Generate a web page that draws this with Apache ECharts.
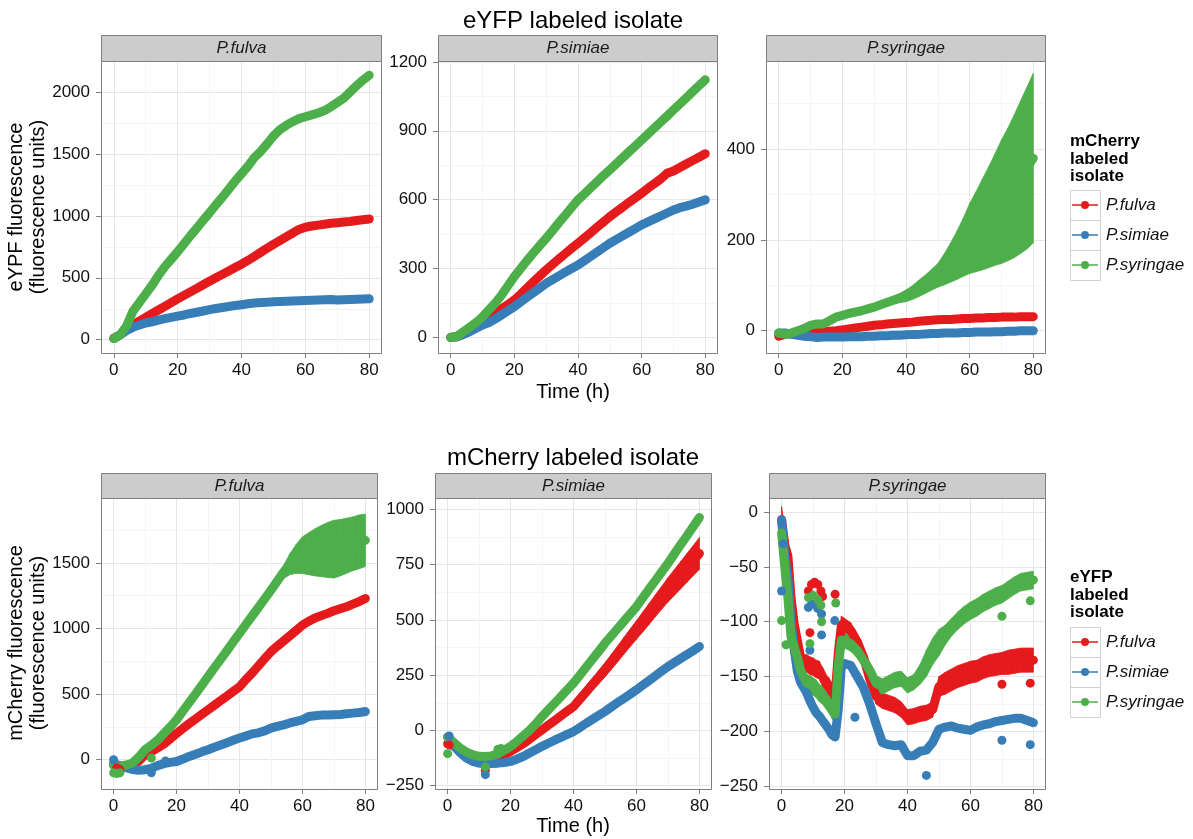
<!DOCTYPE html>
<html><head><meta charset="utf-8">
<script src="https://cdn.jsdelivr.net/npm/echarts@6/dist/echarts.min.js"></script>
<style>html,body{margin:0;padding:0;background:#fff}#c{width:1193px;height:839px}</style>
</head><body><div id="c"></div>
<script>
// ---------- categories / labels ----------
const seriesNames = ['P.fulva', 'P.simiae', 'P.syringae'];
const facetNames = ['P.fulva', 'P.simiae', 'P.syringae'];
const topTitle = 'eYFP labeled isolate';
const bottomTitle = 'mCherry labeled isolate';
const topYTitle = 'eYPF fluorescence\n(fluorescence units)';
const bottomYTitle = 'mCherry fluorescence\n(fluorescence units)';
const xTitle = 'Time (h)';
const topLegendTitle = 'mCherry\nlabeled\nisolate';
const bottomLegendTitle = 'eYFP\nlabeled\nisolate';

// ---------- tick labels ----------
const xTicks = [0, 20, 40, 60, 80];
const A_yTicks = [0, 500, 1000, 1500, 2000];
const B_yTicks = [0, 300, 600, 900, 1200];
const C_yTicks = [0, 200, 400];
const D_yTicks = [0, 500, 1000, 1500];
const E_yTicks = [-250, 0, 250, 500, 750, 1000];
const F_yTicks = [-250, -200, -150, -100, -50, 0];

// ---------- time points (h) ----------
const tMain = [0,2,4,6,8,10,12,14,16,18,20,22,24,26,28,30,32,34,36,38,40,42,44,46,48,50,52,54,56,58,60,62,64,66,68,70,72,74,76,78,80];
const tF = [0,1,2,3,4,5,6,7,8,9,10,11,12,13,14,15,16,17,18,19,20,22,24,26,28,30,32,34,36,38,40,42,44,46,48,50,52,54,56,58,60,62,64,66,68,70,72,74,76,78,80];

// ---------- top row: eYFP fluorescence ----------
const A_fulva = [10,40,80,118,150,180,210,240,270,300,330,358,387,415,444,473,500,528,555,583,610,640,672,705,738,770,800,830,860,890,908,918,925,932,940,945,950,955,962,968,975];
const A_simiae = [10,40,75,100,118,135,145,158,170,180,190,200,212,222,232,243,252,260,268,276,283,290,296,300,303,306,308,310,312,314,316,318,320,322,325,320,322,324,326,328,330];
const A_syringae = [10,40,110,230,300,370,440,520,590,650,710,775,840,900,965,1025,1090,1150,1215,1280,1340,1400,1470,1520,1580,1645,1695,1730,1760,1785,1800,1815,1830,1850,1880,1915,1950,2000,2050,2095,2135];

const B_fulva = [0,3,15,30,48,68,85,105,125,143,163,188,215,242,268,294,318,342,365,388,410,433,456,480,503,526,547,567,588,608,628,650,670,690,715,725,740,755,770,785,800];
const B_simiae = [0,3,13,25,40,54,65,80,98,116,134,155,175,195,215,235,252,268,284,300,315,334,353,372,391,410,426,442,458,474,490,503,516,529,542,555,565,572,580,590,599];
const B_syringae = [0,5,25,45,65,90,120,150,185,225,265,300,335,368,400,432,465,500,533,566,599,625,652,678,705,730,756,782,808,834,860,886,912,938,964,991,1017,1043,1070,1096,1122];

const C_fulva = [-12,-8,-6,-5,-5,-4,-3,-2,-1,0,2,4,6,8,10,12,13,15,16,17,18,19,21,22,23,24,25,25,26,27,27,28,28,29,29,30,30,30,31,31,31];
const C_simiae = [-5,-5,-8,-10,-12,-13,-15,-14,-14,-14,-14,-13,-13,-13,-12,-12,-11,-11,-10,-10,-9,-8,-8,-7,-6,-6,-5,-5,-5,-4,-4,-3,-3,-3,-2,-2,-1,-1,0,0,0];
const C_syringae = [-5,-8,-5,0,5,12,15,15,22,30,34,38,41,44,48,52,57,62,67,72,77,84,93,102,112,122,135,150,166,184,203,218,234,250,267,284,300,318,338,358,380];
const C_syringae_err = [2,2,2,2,2,2,2,2,2,2,2,2,2,2,2,3,4,6,8,10,13,15,18,20,23,26,34,43,53,64,77,88,100,111,123,136,146,157,168,178,187];

// ---------- bottom row: mCherry fluorescence ----------
const D_fulva = [-40,-55,-60,-40,-10,38,63,90,120,160,200,238,275,310,345,380,415,450,485,520,555,610,660,715,770,823,865,905,945,985,1026,1055,1080,1098,1115,1135,1150,1165,1185,1205,1229];
const D_simiae = [-30,-45,-60,-75,-80,-76,-65,-45,-30,-20,-13,5,25,42,60,76,95,112,130,148,165,180,197,205,220,241,254,266,280,292,304,329,335,340,340,342,345,350,355,360,367];
const D_syringae = [-40,-50,-40,-25,20,76,110,150,200,250,304,370,435,500,567,633,700,765,830,897,963,1030,1095,1160,1225,1292,1360,1430,1490,1530,1558,1570,1580,1590,1598,1604,1615,1630,1645,1660,1672];
const D_syringae_err = [8,8,8,8,8,8,8,8,8,8,8,8,8,8,8,8,8,8,8,8,8,8,8,8,8,15,25,50,80,110,140,160,180,195,210,220,215,210,205,205,200];
const D_fulva_out = [[1,-60],[2,-75]];
const D_simiae_out = [[0,0],[12,-100],[16.5,-10]];
const D_syringae_out = [[0,-100],[1,-105],[2,-100],[12,13]];

const E_fulva = [-60,-70,-90,-110,-122,-125,-128,-126,-122,-110,-95,-78,-60,-40,-18,3,24,45,66,87,108,141,174,208,241,274,310,346,383,419,455,491,527,564,600,636,669,702,735,768,801];
const E_fulva_err = [3,3,3,3,3,3,3,3,3,3,3,4,5,6,8,10,12,14,16,18,20,22,25,27,30,32,34,36,38,40,42,45,47,50,52,55,58,62,65,68,72];
const E_simiae = [-30,-70,-100,-125,-140,-148,-152,-150,-148,-145,-140,-130,-118,-102,-87,-72,-58,-44,-31,-18,-5,13,32,50,68,86,106,126,145,164,184,205,226,247,268,289,307,325,343,361,380];
const E_syringae = [-30,-55,-80,-98,-110,-117,-118,-115,-105,-90,-72,-50,-25,0,30,63,93,123,153,184,214,250,286,322,358,395,428,461,494,527,560,600,640,678,717,756,798,840,880,922,964];
const E_fulva_out = [[0.5,-65],[12,-180]];
const E_simiae_out = [[0.5,-25],[12,-200]];
const E_syringae_out = [[0,-105],[12,-165],[16,-85],[17,-82]];

const F_fulva = [-7,-30,-40,-78,-102,-117,-132,-138,-138,-140,-141,-143,-144,-150,-156,-159,-164,-168,-129,-103,-105,-108,-118,-132,-152,-168,-172,-174,-176,-180,-187,-186,-184,-183,-180,-159,-156,-153,-150,-148,-146,-145,-142,-140,-139,-138,-137,-136,-135,-135,-135];
const F_fulva_err = [12,15,15,12,10,8,8,8,8,8,8,8,8,8,8,8,8,8,10,8,8,7,7,7,7,7,7,7,7,7,7,7,7,7,7,9,10,10,10,10,10,10,10,10,10,10,11,11,11,11,11];
const F_simiae = [-7,-40,-60,-100,-125,-145,-155,-160,-165,-172,-178,-183,-186,-190,-194,-198,-203,-205,-180,-140,-138,-140,-150,-160,-175,-193,-210,-212,-213,-212,-222,-222,-218,-217,-210,-198,-196,-195,-197,-198,-199,-196,-194,-193,-191,-190,-189,-188,-188,-190,-192];
const F_syringae = [-19,-50,-78,-114,-123,-132,-144,-150,-156,-157,-159,-161,-165,-167,-171,-175,-180,-184,-140,-117,-117,-120,-126,-135,-144,-156,-159,-156,-153,-152,-158,-155,-148,-138,-127,-119,-112,-105,-99,-94,-90,-87,-83,-80,-77,-75,-71,-67,-64,-63,-62];
const F_syringae_err = [10,20,20,15,12,10,8,8,8,8,8,8,8,8,8,8,8,8,10,7,7,7,7,7,7,7,7,7,7,7,7,7,9,12,12,12,9,8,8,8,8,8,8,8,8,8,8,8,8,8,8];
const F_fulva_out = [[8.5,-72],[9.5,-66],[10.5,-64],[11.5,-66],[12.5,-72],[9,-110],[13,-77],[17,-75],[70,-157],[79,-156]];
const F_simiae_out = [[0,-72],[0.5,-29],[8.5,-87],[9.5,-84],[10.5,-84],[11.5,-88],[12.7,-93],[12.7,-112],[9,-126],[16.9,-99],[23.3,-187],[46,-240],[70,-208],[79,-212]];
const F_syringae_out = [[0,-99],[1.4,-121],[8.5,-78],[10,-76],[11.5,-80],[12.5,-85],[9,-120],[12.7,-100],[17.2,-83],[70,-95],[79,-81]];

// ---------- styling / layout ----------
const COL = ['#E41A1C', '#377EB8', '#4DAF4A'];
const FONT = '"Liberation Sans", Arial, Helvetica, sans-serif';
const panels = [
  {left:101, top:61, width:281, height:292, ymin:-107,   ymax:2250, yint:500, yTicks:A_yTicks},
  {left:438, top:61, width:280, height:292, ymin:-68,    ymax:1204, yint:300, yTicks:B_yTicks},
  {left:766, top:61, width:280, height:292, ymin:-49,    ymax:594,  yint:200, yTicks:C_yTicks},
  {left:101, top:498, width:277, height:291, ymin:-223,  ymax:1994, yint:500, yTicks:D_yTicks},
  {left:435, top:498, width:277, height:291, ymin:-265,  ymax:1052, yint:250, yTicks:E_yTicks},
  {left:769, top:498, width:277, height:291, ymin:-252.4,ymax:12.7, yint:50,  yTicks:F_yTicks}
];

const grids = [], xAxes = [], yAxes = [], graphics = [];
const fmt = v => String(v).replace('-', '\u2212');
panels.forEach((p, i) => {
  grids.push({left:p.left, top:p.top, width:p.width, height:p.height, show:false, containLabel:false, outerBoundsMode:'none'});
  xAxes.push({type:'value', gridIndex:i, min:-4, max:84, minInterval:20, maxInterval:20,
    axisLine:{show:false, onZero:false},
    axisTick:{show:true, length:5, lineStyle:{color:'#7F7F7F', width:1}, customValues:xTicks},
    axisLabel:{customValues:xTicks, fontSize:17, color:'#111', margin:9, fontFamily:FONT},
    splitLine:{show:true, lineStyle:{color:'#E6E6E6', width:1}},
    minorTick:{show:false, splitNumber:2},
    minorSplitLine:{show:true, lineStyle:{color:'#F5F5F5', width:1}}
  });
  yAxes.push({type:'value', gridIndex:i, min:p.ymin, max:p.ymax, minInterval:p.yint, maxInterval:p.yint,
    axisLine:{show:false, onZero:false},
    axisTick:{show:true, length:5, lineStyle:{color:'#7F7F7F', width:1}, customValues:p.yTicks},
    axisLabel:{customValues:p.yTicks, fontSize:17, color:'#111', margin:11, fontFamily:FONT, formatter:fmt},
    splitLine:{show:true, lineStyle:{color:'#E6E6E6', width:1}},
    minorTick:{show:false, splitNumber:2},
    minorSplitLine:{show:true, lineStyle:{color:'#F5F5F5', width:1}}
  });
  const sh = i < 3 ? 26 : 25;
  graphics.push({type:'rect', z:50, silent:true,
    shape:{x:p.left + 0.5, y:p.top + 0.5, width:p.width - 1, height:p.height},
    style:{fill:'none', stroke:'#7F7F7F', lineWidth:1}});
  graphics.push({type:'rect', z:50, silent:true,
    shape:{x:p.left + 0.5, y:p.top - sh + 0.5, width:p.width - 1, height:sh},
    style:{fill:'#CCCCCC', stroke:'#7F7F7F', lineWidth:1}});
  graphics.push({type:'text', z:51, silent:true, x:p.left + p.width / 2, y:p.top - sh / 2 + 0.5,
    style:{text:facetNames[i % 3], fontSize:17, fontStyle:'italic', fontFamily:FONT, fill:'#1A1A1A', align:'center', verticalAlign:'middle'}});
});

graphics.push({type:'text', x:573, y:21, style:{text:topTitle, fontSize:24, fontFamily:FONT, fill:'#000', align:'center', verticalAlign:'middle'}});
graphics.push({type:'text', x:573, y:458, style:{text:bottomTitle, fontSize:24, fontFamily:FONT, fill:'#000', align:'center', verticalAlign:'middle'}});
graphics.push({type:'text', x:573, y:392, style:{text:xTitle, fontSize:20, fontFamily:FONT, fill:'#000', align:'center', verticalAlign:'middle'}});
graphics.push({type:'text', x:573, y:826, style:{text:xTitle, fontSize:20, fontFamily:FONT, fill:'#000', align:'center', verticalAlign:'middle'}});
graphics.push({type:'text', x:27, y:207, rotation:Math.PI / 2, style:{text:topYTitle, fontSize:20, lineHeight:22, fontFamily:FONT, fill:'#000', align:'center', verticalAlign:'middle'}});
graphics.push({type:'text', x:27, y:643, rotation:Math.PI / 2, style:{text:bottomYTitle, fontSize:20, lineHeight:22, fontFamily:FONT, fill:'#000', align:'center', verticalAlign:'middle'}});
graphics.push({type:'text', x:1070, y:133, style:{text:topLegendTitle, fontSize:17, fontWeight:'bold', lineHeight:17.5, fontFamily:FONT, fill:'#000', align:'left', verticalAlign:'top'}});
graphics.push({type:'text', x:1070, y:569, style:{text:bottomLegendTitle, fontSize:17, fontWeight:'bold', lineHeight:17.5, fontFamily:FONT, fill:'#000', align:'left', verticalAlign:'top'}});
[190, 627].forEach(y0 => {
  for (let k = 0; k < 3; k++) {
    graphics.push({type:'rect', z:1, silent:true, shape:{x:1070.5, y:y0 + 30 * k + 0.5, width:30, height:30},
      style:{fill:'#fff', stroke:'#D0D0D0', lineWidth:1}});
  }
});

// ---------- series builders ----------
const zip = (t, v) => t.map((x, i) => [x, v[i]]);
function lineS(ci, gi, t, v) {
  return {type:'line', name:seriesNames[ci], xAxisIndex:gi, yAxisIndex:gi, data:zip(t, v),
    showSymbol:false, symbol:'circle', symbolSize:9, silent:true, animation:false, z:3,
    lineStyle:{width:9, color:COL[ci], cap:'round', join:'round', opacity:1}, itemStyle:{color:COL[ci], opacity:1}};
}
function dotS(ci, gi, pts) {
  return {type:'scatter', name:seriesNames[ci], xAxisIndex:gi, yAxisIndex:gi, data:pts,
    symbol:'circle', symbolSize:9, silent:true, animation:false, z:3, itemStyle:{color:COL[ci], opacity:1}};
}
function bandS(ci, gi, t, v, e) {
  const data = [];
  for (let i = 0; i < t.length - 1; i++) {
    data.push([t[i], v[i] - e[i], v[i] + e[i], t[i + 1], v[i + 1] - e[i + 1], v[i + 1] + e[i + 1]]);
  }
  const c = COL[ci];
  return {type:'custom', name:seriesNames[ci] + ' sd', xAxisIndex:gi, yAxisIndex:gi, data, silent:true, animation:false, z:3,
    encode:{x:[0, 3], y:[1, 2, 4, 5]}, clip:true,
    renderItem:(params, api) => {
      const a = api.coord([api.value(0), api.value(1)]);
      const b = api.coord([api.value(0), api.value(2)]);
      const cc = api.coord([api.value(3), api.value(5)]);
      const d = api.coord([api.value(3), api.value(4)]);
      return {type:'polygon', shape:{points:[a, b, cc, d]}, style:{fill:c, stroke:c, lineWidth:0.8}};
    }};
}

const series = [
  lineS(0,0,tMain,A_fulva), lineS(1,0,tMain,A_simiae), lineS(2,0,tMain,A_syringae),
  lineS(0,1,tMain,B_fulva), lineS(1,1,tMain,B_simiae), lineS(2,1,tMain,B_syringae),
  lineS(0,2,tMain,C_fulva), lineS(1,2,tMain,C_simiae), bandS(2,2,tMain,C_syringae,C_syringae_err), lineS(2,2,tMain,C_syringae),
  lineS(0,3,tMain,D_fulva), dotS(0,3,D_fulva_out),
  lineS(1,3,tMain,D_simiae), dotS(1,3,D_simiae_out),
  bandS(2,3,tMain,D_syringae,D_syringae_err), lineS(2,3,tMain,D_syringae), dotS(2,3,D_syringae_out),
  bandS(0,4,tMain,E_fulva,E_fulva_err), lineS(0,4,tMain,E_fulva), dotS(0,4,E_fulva_out),
  lineS(1,4,tMain,E_simiae), dotS(1,4,E_simiae_out),
  lineS(2,4,tMain,E_syringae), dotS(2,4,E_syringae_out),
  bandS(0,5,tF,F_fulva,F_fulva_err), lineS(0,5,tF,F_fulva), dotS(0,5,F_fulva_out),
  lineS(1,5,tF,F_simiae), dotS(1,5,F_simiae_out),
  bandS(2,5,tF,F_syringae,F_syringae_err), lineS(2,5,tF,F_syringae), dotS(2,5,F_syringae_out)
];

const ICON = 'path://M0,3.25H9.2V4.75H0Z M16.8,3.25H26V4.75H16.8Z M9,4A4,4 0 1 1 17,4A4,4 0 1 1 9,4Z';
const legendBase = {data:seriesNames, orient:'vertical', left:1072, itemWidth:26, itemHeight:8, itemGap:0, padding:0,
  icon:ICON, selectedMode:false, itemStyle:{borderWidth:0, opacity:1},
  textStyle:{fontSize:17, fontStyle:'italic', fontFamily:FONT, color:'#111', lineHeight:30, padding:[0,0,0,3]}};

const chart = echarts.init(document.getElementById('c'), null, {renderer:'canvas'});
chart.setOption({
  backgroundColor:'#fff',
  animation:false,
  grid:grids, xAxis:xAxes, yAxis:yAxes,
  legend:[Object.assign({}, legendBase, {top:190}), Object.assign({}, legendBase, {top:627})],
  graphic:{elements:graphics},
  series
});
</script></body></html>
